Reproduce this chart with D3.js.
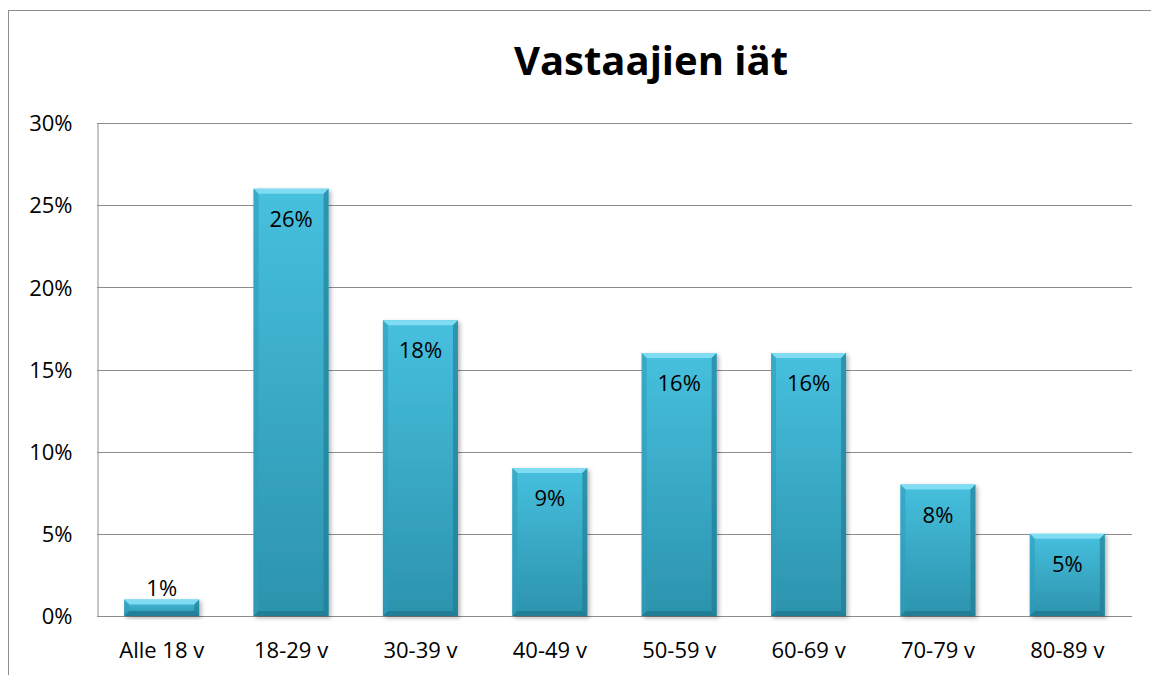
<!DOCTYPE html>
<html lang="en">
<head>
    <meta charset="UTF-8">
    <title>Vastaajien iät</title>
    <style>
        body { margin: 0; background: #fff; }
        svg text { font-family: "Open Sans", "Noto Sans", sans-serif; fill: #000; }
        .title { font-size: 40px; font-weight: bold; }
        .tick text { font-size: 22px; }
        .lbl { font-size: 22px; text-anchor: middle; }
    </style>
</head>
<body>
    <div id="chart"></div>

    <script src="https://d3js.org/d3.v7.min.js"></script>
    <script>
        const categories = ["Alle 18 v", "18-29 v", "30-39 v", "40-49 v", "50-59 v", "60-69 v", "70-79 v", "80-89 v"];
        const values = [0.01, 0.26, 0.18, 0.09, 0.16, 0.16, 0.08, 0.05];
        const yTicks = [0, 0.05, 0.10, 0.15, 0.20, 0.25, 0.30];

        const width = 1151, height = 675;
        const margin = { top: 123, right: 19, bottom: 59, left: 97 };

        const svg = d3.select("#chart").append("svg")
            .attr("width", width)
            .attr("height", height);

        // gradients for the bevelled bars
        const defs = svg.append("defs");
        const grad = defs.append("linearGradient")
            .attr("id", "barGrad").attr("x1", 0).attr("y1", 0).attr("x2", 0).attr("y2", 1);
        grad.append("stop").attr("offset", "0%").attr("stop-color", "#46c0de");
        grad.append("stop").attr("offset", "100%").attr("stop-color", "#2c93ad");

        const shadow = defs.append("filter").attr("id", "shadow")
            .attr("x", "-10%").attr("y", "-10%").attr("width", "130%").attr("height", "130%");
        shadow.append("feDropShadow").attr("dx", 2).attr("dy", 2).attr("stdDeviation", 2)
            .attr("flood-color", "#000").attr("flood-opacity", 0.3);

        // outer chart border
        svg.append("rect")
            .attr("x", 8.5).attr("y", 10.5)
            .attr("width", width).attr("height", height)
            .attr("fill", "none").attr("stroke", "#8c8c8c");

        svg.append("text")
            .attr("class", "title")
            .attr("x", 651).attr("y", 75)
            .attr("text-anchor", "middle")
            .text("Vastaajien iät");

        const x = d3.scaleBand()
            .domain(categories)
            .range([margin.left, width - margin.right])
            .paddingInner(0.42)
            .paddingOuter(0.21);

        const y = d3.scaleLinear()
            .domain([0, 0.30])
            .range([height - margin.bottom, margin.top]);

        // gridlines
        svg.append("g")
            .selectAll("line")
            .data(yTicks)
            .enter()
            .append("line")
            .attr("x1", margin.left).attr("x2", width - margin.right)
            .attr("y1", d => Math.round(y(d)) + 0.5)
            .attr("y2", d => Math.round(y(d)) + 0.5)
            .attr("stroke", "#8c8c8c");

        // y axis
        const yAxis = svg.append("g")
            .attr("transform", `translate(${margin.left + 0.5},0)`)
            .call(d3.axisLeft(y).tickValues(yTicks).tickFormat(d3.format(".0%")).tickSize(0).tickPadding(25));
        yAxis.select(".domain").attr("stroke", "#8c8c8c");
        yAxis.selectAll(".tick text").attr("dy", "0.35em");

        // x axis labels
        const xAxis = svg.append("g")
            .attr("transform", `translate(0,${height - margin.bottom})`)
            .call(d3.axisBottom(x).tickSize(0).tickPadding(26));
        xAxis.select(".domain").remove();

        // bars
        const bars = svg.append("g")
            .selectAll("g")
            .data(values)
            .enter()
            .append("g")
            .attr("filter", "url(#shadow)");

        bars.append("rect")
            .attr("x", (d, i) => x(categories[i]))
            .attr("y", d => y(d))
            .attr("width", x.bandwidth())
            .attr("height", d => y(0) - y(d))
            .attr("fill", "url(#barGrad)");

        const bevel = 5;
        // top bevel (light)
        bars.append("polygon")
            .attr("points", (d, i) => {
                const x0 = x(categories[i]), x1 = x0 + x.bandwidth(), t = y(d);
                return `${x0},${t} ${x1},${t} ${x1 - bevel},${t + bevel} ${x0 + bevel},${t + bevel}`;
            })
            .attr("fill", "#7fdcf2");
        // left bevel
        bars.append("polygon")
            .attr("points", (d, i) => {
                const x0 = x(categories[i]), t = y(d), b = y(0);
                return `${x0},${t} ${x0 + bevel},${t + bevel} ${x0 + bevel},${b - bevel} ${x0},${b}`;
            })
            .attr("fill", "#2f9dba").attr("opacity", 0.6);
        // right bevel
        bars.append("polygon")
            .attr("points", (d, i) => {
                const x1 = x(categories[i]) + x.bandwidth(), t = y(d), b = y(0);
                return `${x1},${t} ${x1 - bevel},${t + bevel} ${x1 - bevel},${b - bevel} ${x1},${b}`;
            })
            .attr("fill", "#1f7890").attr("opacity", 0.6);
        // bottom bevel
        bars.append("polygon")
            .attr("points", (d, i) => {
                const x0 = x(categories[i]), x1 = x0 + x.bandwidth(), b = y(0);
                return `${x0},${b} ${x1},${b} ${x1 - bevel},${b - bevel} ${x0 + bevel},${b - bevel}`;
            })
            .attr("fill", "#1d6f86").attr("opacity", 0.6);

        // value labels
        svg.append("g")
            .selectAll("text")
            .data(values)
            .enter()
            .append("text")
            .attr("class", "lbl")
            .attr("x", (d, i) => x(categories[i]) + x.bandwidth() / 2)
            .attr("y", d => (y(0) - y(d) < 40) ? y(d) - 4 : y(d) + 38)
            .text(d => d3.format(".0%")(d));
    </script>
</body>
</html>
